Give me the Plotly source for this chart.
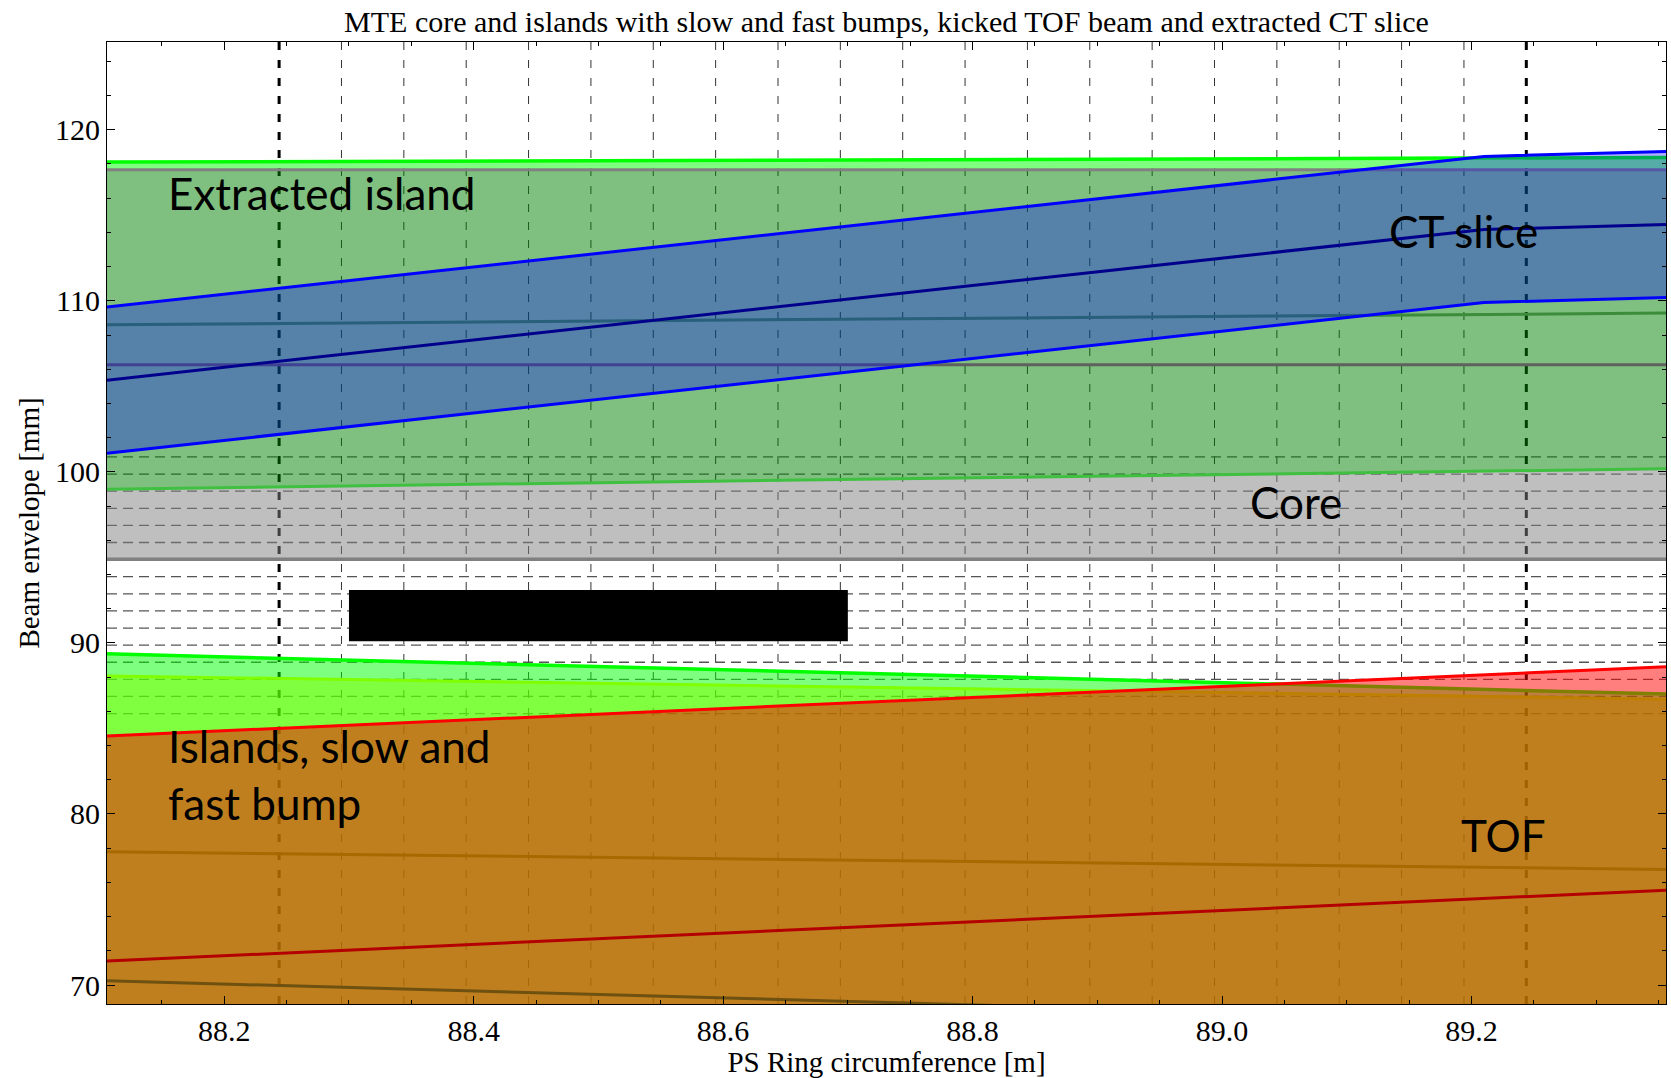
import plotly.graph_objects as go

# Ring position samples [m]
s_ends = [88.106, 89.356]
s_ct = [88.106, 89.21, 89.356]

# Extracted CT slice envelope [mm]
ct_upper = [109.63, 118.44, 118.73]
ct_center = [105.36, 114.17, 114.46]
ct_lower = [101.09, 109.9, 110.19]

# Extracted island [mm]
ext_top = [118.11, 118.38]
ext_center = [108.6, 109.28]
ext_bottom = [98.99, 100.18]

# Flat reference levels [mm]
level_high = [117.66, 117.66]
level_mid = [106.26, 106.26]
core_edge = [94.89, 94.89]

# Inner islands with slow and fast bumps [mm]
isl_top = [89.36, 87.01]
bump_top = [88.07, 86.71]
isl_center = [77.79, 76.76]
bump_center = [70.25, 67.71]

# Kicked TOF beam [mm]
tof_top = [84.56, 88.61]
tof_center = [71.4, 75.54]

# Septum blade [m], [mm]
septum_s = [88.3, 88.7]
septum_y = [90.1, 93.1]

# Magnet hatch pattern
hatch_s0, hatch_ds, hatch_n = 88.244, 0.05, 21
hatch_y0, hatch_dy, hatch_m = 85.87, 1.0, 16

X_RANGE = [88.106, 89.356]
Y_RANGE = [68.89, 125.13]

fig = go.Figure()


def band(x, lo, hi, color):
    fig.add_trace(go.Scatter(x=x, y=lo, mode="lines", line=dict(width=0),
                             hoverinfo="skip", showlegend=False))
    fig.add_trace(go.Scatter(x=x, y=hi, mode="lines", line=dict(width=0),
                             fill="tonexty", fillcolor=color,
                             hoverinfo="skip", showlegend=False))


def below(x, top, color):
    fig.add_trace(go.Scatter(x=x, y=top, mode="lines", line=dict(width=0),
                             fill="tozeroy", fillcolor=color,
                             hoverinfo="skip", showlegend=False))


def curve(x, y, color, width=3):
    fig.add_trace(go.Scatter(x=x, y=y, mode="lines",
                             line=dict(color=color, width=width),
                             hoverinfo="skip", showlegend=False))


# core and extracted island
band(s_ends, core_edge, ext_bottom, "rgba(128,128,128,0.5)")
band(s_ends, ext_bottom, level_high, "rgba(0,128,0,0.5)")
band(s_ends, level_high, ext_top, "rgba(0,255,0,0.5)")
curve(s_ends, core_edge, "#808080", 3.5)
curve(s_ends, level_mid, "#606060", 3)
curve(s_ends, level_high, "#808080", 3)
curve(s_ends, ext_bottom, "#40c040", 3)
curve(s_ends, ext_center, "#3c8c3c", 3)
curve(s_ends, ext_top, "#00ff00", 3.5)

# CT slice
band(s_ct, ct_lower, ct_upper, "rgba(0,0,255,0.32)")
curve(s_ct, ct_upper, "#0000ff", 3)
curve(s_ct, ct_lower, "#0000ff", 3)
curve(s_ct, ct_center, "#00008c", 3)

# islands with slow and fast bump
below(s_ends, bump_top, "rgba(255,255,0,0.5)")
curve(s_ends, bump_top, "#ffff00", 3)
below(s_ends, isl_top, "rgba(0,255,0,0.5)")
curve(s_ends, isl_top, "#00ff00", 3.5)

# TOF beam
below(s_ends, tof_top, "rgba(255,0,0,0.5)")
curve(s_ends, tof_top, "#ff0000", 3)
curve(s_ends, isl_center, "#a86a00", 3)
curve(s_ends, tof_center, "#b40000", 3)
curve(s_ends, bump_center, "#6e5010", 3)

# hatch grid beneath the beams
for k in range(hatch_n):
    xs = hatch_s0 + k * hatch_ds
    thick = k in (0, hatch_n - 1)
    fig.add_shape(type="line", xref="x", yref="paper", x0=xs, x1=xs, y0=0, y1=1,
                  layer="below",
                  line=dict(color="#000000" if thick else "#333333",
                            width=3 if thick else 1, dash="8px,10px"))
for k in range(hatch_m):
    ys = hatch_y0 + k * hatch_dy
    fig.add_shape(type="line", xref="paper", yref="y", x0=0, x1=1, y0=ys, y1=ys,
                  layer="below",
                  line=dict(color="#555555", width=1.3, dash="10px,6px"))

# septum
fig.add_shape(type="rect", xref="x", yref="y",
              x0=septum_s[0], x1=septum_s[1], y0=septum_y[0], y1=septum_y[1],
              fillcolor="black", line=dict(width=0), layer="above")

label_font = dict(family="Lato", size=44, color="black")
labels = [
    ("Extracted island", 88.1535, 116.33, "left"),
    ("CT slice", 89.194, 114.06, "center"),
    ("Core", 89.059, 98.22, "center"),
    ("Islands, slow and<br>fast bump", 88.1535, 82.32, "left"),
    ("TOF", 89.226, 78.77, "center"),
]
for text, x, y, anchor in labels:
    fig.add_annotation(x=x, y=y, text=text, showarrow=False, xanchor=anchor,
                       yanchor="middle", align="left", font=label_font)

serif = dict(family="Liberation Serif", size=30, color="black")
axis_title_font = dict(family="Liberation Serif", size=29, color="black")
axis_common = dict(showline=True, linecolor="black", linewidth=1, mirror="allticks",
                   ticks="inside", ticklen=8, tickcolor="black", showgrid=False,
                   zeroline=False, tickfont=serif)

fig.update_layout(
    width=1671, height=1078,
    margin=dict(l=107, r=5, t=42, b=74),
    plot_bgcolor="white", paper_bgcolor="white",
    title=dict(text="MTE core and islands with slow and fast bumps, kicked TOF beam and extracted CT slice",
               font=serif, x=0.5, xref="paper", y=1 - 21 / 1078, yanchor="middle"),
    xaxis=dict(range=X_RANGE, dtick=0.2, tick0=88.2, tickformat=".1f",
               minor=dict(dtick=0.05, tick0=88.2, ticks="inside", ticklen=4, tickcolor="black"),
               title=dict(text="PS Ring circumference [m]", font=axis_title_font, standoff=6),
               **axis_common),
    yaxis=dict(range=Y_RANGE, dtick=10, tick0=70,
               minor=dict(dtick=2, tick0=70, ticks="inside", ticklen=4, tickcolor="black"),
               title=dict(text="Beam envelope [mm]", font=axis_title_font, standoff=6),
               **axis_common),
)

fig.write_html("out.html", config=dict(displayModeBar=False))
